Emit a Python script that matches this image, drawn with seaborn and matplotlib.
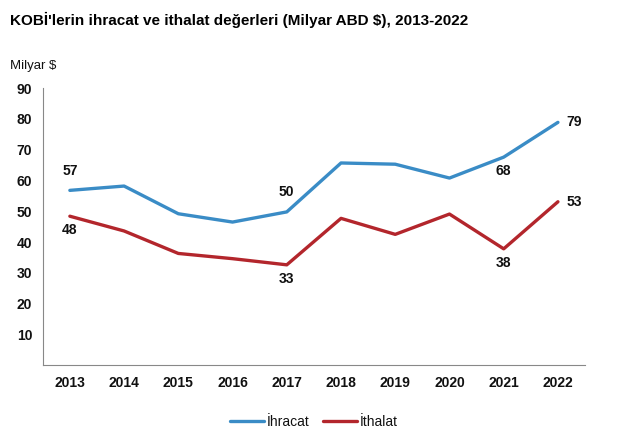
import matplotlib.pyplot as plt
import pandas as pd
import seaborn as sns

years = [2013, 2014, 2015, 2016, 2017, 2018, 2019, 2020, 2021, 2022]
ihracat = [56.8, 58.2, 49.2, 46.5, 49.8, 65.7, 65.3, 60.8, 67.6, 78.9]
ithalat = [48.4, 43.6, 36.3, 34.6, 32.6, 47.7, 42.5, 49.1, 37.8, 53.1]

# labels shown on the chart: (series, year index, text, position)
labels = [("ihr", 0, "57", "above"), ("ith", 0, "48", "below"),
          ("ihr", 4, "50", "above"), ("ith", 4, "33", "below"),
          ("ihr", 8, "68", "below"), ("ith", 8, "38", "below"),
          ("ihr", 9, "79", "right"), ("ith", 9, "53", "right")]

sns.set_style("white")
plt.rcParams['font.family'] = ['Liberation Sans', 'DejaVu Sans']
plt.rcParams['text.color'] = '#111111'
plt.rcParams['xtick.color'] = '#111111'
plt.rcParams['ytick.color'] = '#111111'

df = pd.DataFrame({
    "x": list(range(len(years))) * 2,
    "val": ihracat + ithalat,
    "seri": ["İhracat"] * len(years) + ["İthalat"] * len(years),
})

fig = plt.figure(figsize=(6.38, 4.41), dpi=100)
ax = fig.add_axes([0.067, 0.172, 0.85, 0.628])
sns.lineplot(data=df, x="x", y="val", hue="seri", ax=ax, linewidth=2.4,
             palette={"İhracat": "#3a8cc6", "İthalat": "#b3262c"})

ax.set_xlim(-0.5, len(years) - 0.5)
ax.set_ylim(0, 90)
ax.set_yticks(range(10, 91, 10))
ax.set_xticks([i - 0.5 for i in range(len(years) + 1)], minor=False)
ax.set_xticklabels([])
ax.set_xticks(range(len(years)), minor=True)
ax.set_xticklabels([str(y) for y in years], minor=True)
ax.tick_params(axis="x", which="major", length=4, color="#888888", direction="out")
ax.tick_params(axis="x", which="minor", length=0, labelsize=10, pad=8)
ax.tick_params(axis="y", length=4, color="#888888", direction="out", labelsize=10)
for t in ax.get_xticklabels(minor=True) + ax.get_yticklabels():
    t.set_fontweight("bold")
ax.set_xlabel("")
ax.set_ylabel("")
sns.despine(ax=ax)
ax.spines["left"].set_color("#888888")
ax.spines["bottom"].set_color("#888888")

series = {"ihr": ihracat, "ith": ithalat}
for s, i, txt, pos in labels:
    v = series[s][i]
    if pos == "above":
        ax.annotate(txt, (i, v), xytext=(0, 9), textcoords="offset points",
                    ha="center", va="bottom", fontsize=10, fontweight="bold")
    elif pos == "below":
        ax.annotate(txt, (i, v), xytext=(0, -5), textcoords="offset points",
                    ha="center", va="top", fontsize=10, fontweight="bold")
    else:
        ax.annotate(txt, (i, v), xytext=(6, 0), textcoords="offset points",
                    ha="left", va="center", fontsize=10, fontweight="bold")

ax.legend(loc="upper center", bbox_to_anchor=(0.5, -0.135), ncol=2, frameon=False,
          fontsize=10, handlelength=2.4, handletextpad=0.2, columnspacing=1.0)

fig.text(0.016, 0.955, "KOBİ'lerin ihracat ve ithalat değerleri (Milyar ABD $), 2013-2022",
         fontsize=11, fontweight="bold", va="center", color="black")
fig.text(0.016, 0.85, "Milyar $", fontsize=9.5, va="center")

fig.savefig("out.png", dpi=100)
